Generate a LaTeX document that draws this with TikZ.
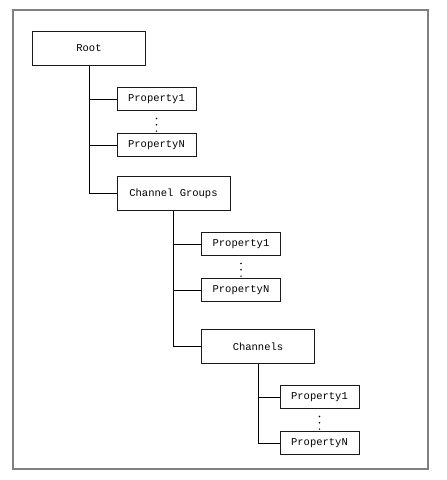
\documentclass[tikz,border=0pt]{standalone}
\usepackage{fontspec}
\setmonofont{Liberation Mono}
\usepackage{tikz}
\usetikzlibrary{positioning,calc}
\definecolor{frm}{HTML}{808080}
\definecolor{blk}{HTML}{1A1A1A}
\tikzset{
  grp/.style={draw=blk, line width=1pt, outer sep=0pt, minimum width=113pt, minimum height=34pt,
              font=\ttfamily\fontsize{10.5}{12}\selectfont},
  prop/.style={draw=blk, line width=1pt, outer sep=0pt, minimum width=79pt, minimum height=23pt,
               inner sep=1pt, font=\ttfamily\fontsize{10.5}{12}\selectfont},
  vdot/.style={draw=black, line width=1.7pt, line cap=round, dash pattern=on 0pt off 6.3pt,
               shorten <=8pt, shorten >=2pt},
  l/.style={draw=black, line width=0.9pt},
}

\begin{document}
\begin{tikzpicture}[x=1pt,y=-1pt]
  \useasboundingbox (0,0) rectangle (447,480);
  \draw[frm, line width=1.6pt] (13,10) rectangle (428,469);

  % root level
  \node[grp] (root) at (89,48.5) {Root};
  \node[prop, below right=22pt and 28pt of root.south] (p1) {Property1};
  \node[prop, below=23pt of p1] (pn) {PropertyN};
  \draw[vdot] (p1.south) -- (pn.north);
  \node[grp, below=20pt of pn.south west, anchor=north west] (cg) {Channel Groups};
  \draw[l] (root.south) |- (p1.west);
  \draw[l] (root.south) |- (pn.west);
  \draw[l] (root.south) |- (cg.west);

  % channel groups level
  \node[prop, below right=22pt and 28pt of cg.south] (cgp1) {Property1};
  \node[prop, below=23pt of cgp1] (cgpn) {PropertyN};
  \draw[vdot] (cgp1.south) -- (cgpn.north);
  \node[grp, below=28pt of cgpn.south west, anchor=north west] (ch) {Channels};
  \draw[l] (cg.south) |- (cgp1.west);
  \draw[l] (cg.south) |- (cgpn.west);
  \draw[l] (cg.south) |- (ch.west);

  % channels level
  \node[prop, below right=22pt and 22pt of ch.south] (chp1) {Property1};
  \node[prop, below=23pt of chp1] (chpn) {PropertyN};
  \draw[vdot] (chp1.south) -- (chpn.north);
  \draw[l] (ch.south) |- (chp1.west);
  \draw[l] (ch.south) |- (chpn.west);
\end{tikzpicture}
\end{document}
